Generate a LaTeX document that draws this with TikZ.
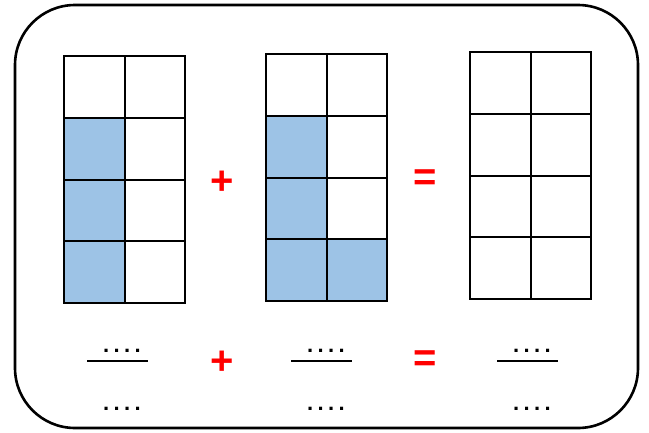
\documentclass[tikz,border=0pt]{standalone}
\usepackage{fontspec}
\setmainfont{Liberation Sans}
\definecolor{cellblue}{HTML}{9DC3E6}
\definecolor{opred}{HTML}{FF0000}
\newcommand\drawcellgrid[2]{%
  \foreach \i in {1,2,3} \draw[gridline] (#1,#2+\i*61.75) -- (#1+121,#2+\i*61.75);
  \draw[gridline] (#1+60.5,#2) -- (#1+60.5,#2+247);
  \draw[gridline] (#1,#2) rectangle (#1+121,#2+247);
}
\begin{document}
\begin{tikzpicture}[x=1pt,y=-1pt,
  gridline/.style={line width=2pt, draw=black},
  op/.style={text=opred, font=\fontsize{40}{40}\selectfont\bfseries, inner sep=0pt},
  dots/.style={font=\fontsize{22}{22}\selectfont\bfseries, inner sep=0pt},
  fracbar/.style={line width=1.3pt}]
\useasboundingbox (0,0) rectangle (649,432);
\draw[line width=2.6pt, rounded corners=60pt] (15,5) rectangle (638,428);
% left grid
\fill[cellblue] (64,117.75) rectangle (124.5,303);
\drawcellgrid{64}{56}
% middle grid
\fill[cellblue] (266,115.75) rectangle (326.5,301);
\fill[cellblue] (326.5,239.25) rectangle (387,301);
\drawcellgrid{266}{54}
% right grid
\drawcellgrid{470}{52}
% operators
\node[op] (p1) at (222,183) {+};
\node[op] (e1) at (425,180) {=};
\node[op] (p2) at (222,363) {+};
\node[op] (e2) at (425,361) {=};
% fractions
\foreach \cx/\nm in {117/a,321/b,527/c}{
  \node[dots] (n\nm) at (\cx+5,351) {.\hspace{4.4pt}.\hspace{4.4pt}.\hspace{4.4pt}.};
  \draw[fracbar] (\cx-30,361) -- (\cx+31,361);
  \node[dots] (d\nm) at (\cx+5,409) {.\hspace{4.4pt}.\hspace{4.4pt}.\hspace{4.4pt}.};
}
\end{tikzpicture}
\end{document}
